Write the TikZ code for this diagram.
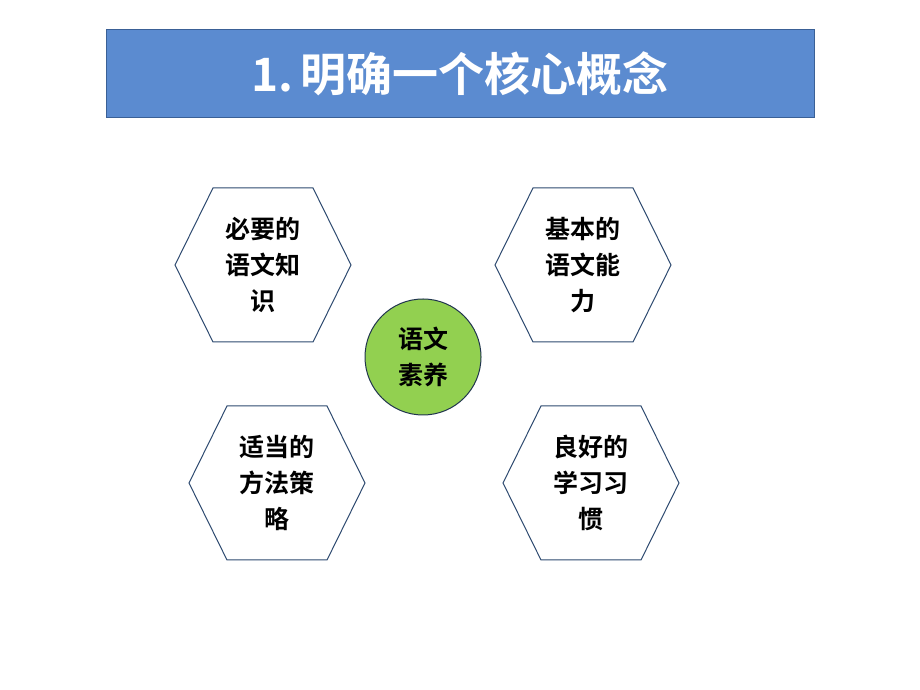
\documentclass[tikz,border=0pt]{standalone}
\usepackage{fontspec}
\newfontfamily\cjk{Noto Sans CJK SC}
\newfontfamily\cjkb{Noto Sans CJK SC Bold}
\setmainfont{Liberation Serif}
\definecolor{titleblue}{HTML}{5B8BD0}
\definecolor{titleedge}{HTML}{3A6096}
\definecolor{hexedge}{HTML}{2E4A70}
\definecolor{ballgreen}{HTML}{92D050}
\tikzset{
  hexbox/.style={draw=hexedge,line width=1pt,fill=white},
  hextext/.style={font=\cjkb\fontsize{25}{36}\selectfont,align=center,text=black},
}
\newcommand\myhex[3]{% name, x, y
  \draw[hexbox] (#2-88,#3) -- (#2-50,#3+77) -- (#2+50,#3+77) -- (#2+88,#3) -- (#2+50,#3-77) -- (#2-50,#3-77) -- cycle;
}
\begin{document}
\begin{tikzpicture}[x=1pt,y=1pt]
\useasboundingbox (0,0) rectangle (920,690);
\node[draw=titleedge,line width=1pt,fill=titleblue,minimum width=708,minimum height=88,text=white,font=\cjkb\fontsize{46}{50}\selectfont] (title) at (460,616) {1.\,明确一个核心概念};
\myhex{a}{263}{425}
\myhex{b}{583}{425}
\myhex{c}{277}{207}
\myhex{d}{591}{207}
\node[hextext] (ta) at (263,425) {必要的\\语文知\\识};
\node[hextext] (tb) at (583,425) {基本的\\语文能\\力};
\node[hextext] (tc) at (277,207) {适当的\\方法策\\略};
\node[hextext] (td) at (591,207) {良好的\\学习习\\惯};
\node[circle,draw=hexedge!70!black,line width=1pt,fill=ballgreen,minimum size=116,hextext] (core) at (423,333) {语文\\素养};
\end{tikzpicture}
\end{document}
